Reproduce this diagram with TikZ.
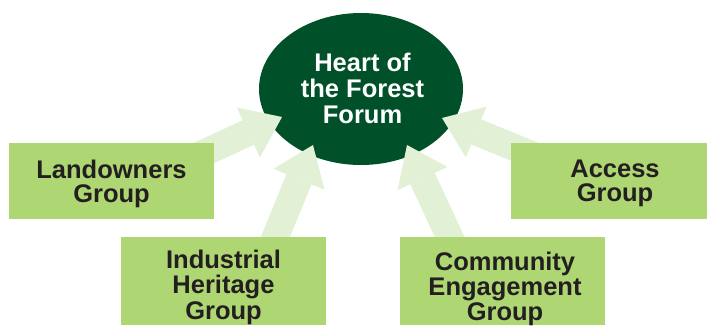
\documentclass[tikz,border=0pt]{standalone}
\usepackage{fontspec}
\setmainfont{Liberation Sans}
\usetikzlibrary{arrows.meta,shapes.geometric}
\definecolor{forumgreen}{RGB}{0,81,41}
\definecolor{boxgreen}{RGB}{174,214,114}
\definecolor{arrowgreen}{RGB}{226,240,213}
\definecolor{textdark}{RGB}{35,31,32}
\tikzset{
  forumnode/.style={ellipse, fill=forumgreen, inner sep=0pt, minimum width=204pt, minimum height=152pt},
  forumtext/.style={anchor=north, inner sep=0pt, text=white, align=center,
    font=\bfseries\fontsize{25.5}{26}\selectfont},
  groupbox/.style={rectangle, fill=boxgreen, inner sep=0pt, minimum width=205pt},
  twoline/.style={anchor=north, inner sep=0pt, text=textdark, align=center,
    font=\bfseries\fontsize{25.5}{23.5}\selectfont},
  threeline/.style={anchor=north, inner sep=0pt, text=textdark, align=center,
    font=\bfseries\fontsize{25.5}{25.3}\selectfont},
  bigarrow/.style={draw=arrowgreen, line width=27pt,
    -{Triangle[length=37pt,width=55pt,line width=0pt,fill=arrowgreen]}}
}
\begin{document}
\begin{tikzpicture}[x=1pt,y=-1pt]
\useasboundingbox (0,0) rectangle (707,325);
\clip (0,0) rectangle (707,325);
\node[forumnode] (forum) at (361,89) {};
\node[forumtext] (forumlabel) at (362.5,53) {Heart of\\the Forest\\Forum};
% arrow end points
\coordinate (lat) at (282,117);
\coordinate (las) at (180,164);
\coordinate (iht) at (313,145);
\coordinate (ihs) at (268,255);
\coordinate (cet) at (407,145);
\coordinate (ces) at (458,255);
\coordinate (act) at (442,118);
\coordinate (acs) at (545,160);
\draw[bigarrow] (las) -- (lat);
\draw[bigarrow] (ihs) -- (iht);
\draw[bigarrow] (ces) -- (cet);
\draw[bigarrow] (acs) -- (act);
\node[groupbox, minimum height=76pt] (land) at (111.5,181) {};
\node[groupbox, minimum height=88pt] (ind) at (223.5,281) {};
\node[groupbox, minimum height=88pt] (com) at (502.5,281) {};
\node[groupbox, minimum height=76pt, minimum width=204pt] (acc) at (613,181) {};
\node[twoline] (landlabel) at (111.5,160) {Landowners\\Group};
\node[threeline] (indlabel) at (223.5,250) {Industrial\\Heritage\\Group};
\node[threeline] (comlabel) at (505,251.5) {Community\\Engagement\\Group};
\node[twoline] (acclabel) at (615,160) {Access\\Group};
\end{tikzpicture}
\end{document}
